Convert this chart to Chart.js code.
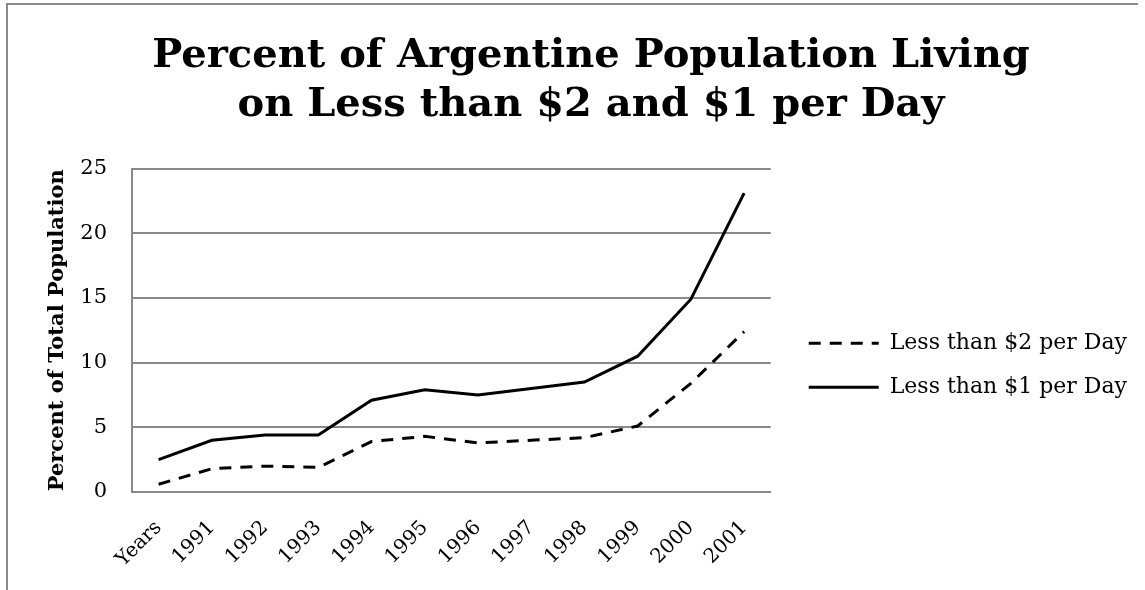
<!DOCTYPE html>
<html>
<head>
<meta charset="utf-8">
<script src="https://cdn.jsdelivr.net/npm/chart.js@4/dist/chart.umd.min.js"></script>
<style>
  body { margin: 0; background: #fff; }
  #frame { position: absolute; left: 6px; top: 3px; width: 1130px; height: 620px;
           border-left: 2px solid #8a8a8a; border-top: 2px solid #8a8a8a; }
  #wrap { position: absolute; left: 0; top: 0; width: 1145px; height: 590px; }
</style>
</head>
<body>
<div id="frame"></div>
<div id="wrap"><canvas id="povertyChart"></canvas></div>
<script>
// poverty share by year, percent of total population
var years = ['Years', '1991', '1992', '1993', '1994', '1995', '1996', '1997', '1998', '1999', '2000', '2001'];
var underTwo = [0.6, 1.8, 2.0, 1.9, 3.9, 4.3, 3.8, 4.0, 4.2, 5.1, 8.4, 12.4];
var underOne = [2.5, 4.0, 4.4, 4.4, 7.1, 7.9, 7.5, 8.0, 8.5, 10.5, 14.9, 23.1];
var yTicks = [0, 5, 10, 15, 20, 25];

var serif = "'DejaVu Serif', 'Liberation Serif', serif";
var gridGray = '#8a8a8a';

var ctx = document.getElementById('povertyChart').getContext('2d');
var povertyChart = new Chart(ctx, {
    type: 'line',
    data: {
        labels: years,
        datasets: [{
            label: 'Less than $2 per Day',
            data: underTwo,
            borderColor: '#000',
            backgroundColor: '#000',
            borderWidth: 3,
            borderDash: [12, 9],
            pointRadius: 0,
            pointStyle: 'line',
            fill: false,
            tension: 0
        }, {
            label: 'Less than $1 per Day',
            data: underOne,
            borderColor: '#000',
            backgroundColor: '#000',
            borderWidth: 3,
            pointRadius: 0,
            pointStyle: 'line',
            fill: false,
            tension: 0
        }]
    },
    options: {
        responsive: true,
        maintainAspectRatio: false,
        animation: false,
        layout: {
            padding: { left: 45, right: 8, top: 32, bottom: 20 }
        },
        plugins: {
            title: {
                display: true,
                text: ['Percent of Argentine Population Living', 'on Less than $2 and $1 per Day'],
                color: '#000',
                font: { family: serif, size: 40, weight: 'bold', lineHeight: 1.22 },
                padding: { top: 0, bottom: 39 }
            },
            legend: {
                position: 'right',
                fullSize: false,
                maxWidth: 420,
                // blank title only nudges the entries a little lower
                title: {
                    display: true,
                    text: '',
                    font: { size: 10 },
                    padding: { top: 29, bottom: 29 }
                },
                labels: {
                    usePointStyle: true,
                    pointStyleWidth: 70,
                    boxHeight: 3,
                    color: '#000',
                    padding: 22,
                    font: { family: serif, size: 22 },
                    // legend lines follow each dataset's own stroke
                    generateLabels: function (chart) {
                        var items = Chart.defaults.plugins.legend.labels.generateLabels(chart);
                        items.forEach(function (item) {
                            var ds = chart.data.datasets[item.datasetIndex];
                            item.lineDash = ds.borderDash || [];
                            item.lineWidth = ds.borderWidth;
                            item.strokeStyle = ds.borderColor;
                        });
                        return items;
                    }
                }
            },
            tooltip: { enabled: false }
        },
        scales: {
            x: {
                offset: true,
                afterFit: function (axis) { axis.height = 78; },
                grid: { display: false, drawTicks: false },
                border: { display: true, color: gridGray, width: 2 },
                ticks: {
                    color: '#000',
                    minRotation: 45,
                    maxRotation: 45,
                    padding: 24,
                    font: { family: serif, size: 20 }
                }
            },
            y: {
                min: 0,
                max: 25,
                afterBuildTicks: function (axis) {
                    axis.ticks = yTicks.map(function (v) { return { value: v }; });
                },
                afterFit: function (axis) { axis.width = 87; },
                grid: { color: gridGray, lineWidth: 2, drawTicks: false },
                border: { display: true, color: gridGray, width: 2 },
                ticks: {
                    color: '#000',
                    padding: 25,
                    font: { family: serif, size: 21 }
                },
                title: {
                    display: true,
                    text: 'Percent of Total Population',
                    color: '#000',
                    padding: 0,
                    font: { family: serif, size: 21, weight: 'bold' }
                }
            },
            // empty spacer between the plot and the legend
            gap: {
                type: 'linear',
                position: 'right',
                grid: { display: false, drawTicks: false },
                border: { display: false },
                ticks: { display: false },
                afterFit: function (axis) { axis.width = 16; }
            }
        }
    }
});
</script>
</body>
</html>
